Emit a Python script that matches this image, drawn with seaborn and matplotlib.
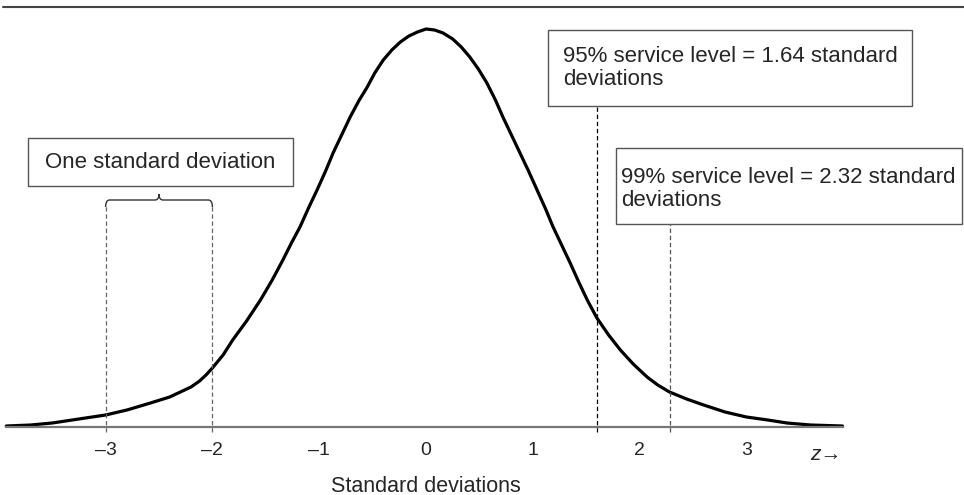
import numpy as np
import matplotlib
matplotlib.use("Agg")
import matplotlib.pyplot as plt
import seaborn as sns
import pandas as pd
from matplotlib.patches import Rectangle, PathPatch
from matplotlib.path import Path

# curve (z in standard deviations, height ~ density)
z_vals = [-3.93, -3.7, -3.5, -3.25, -3.0, -2.8, -2.58, -2.4, -2.30, -2.2, -2.12, -2.06,
          -2.0, -1.9, -1.81, -1.68, -1.55, -1.44, -1.34, -1.26, -1.18, -1.10, -1.02,
          -0.94, -0.87, -0.79, -0.71, -0.63, -0.55, -0.48, -0.40, -0.32, -0.24, -0.16,
          -0.08, 0.0, 0.08, 0.16, 0.25, 0.33, 0.41, 0.49, 0.57, 0.65, 0.72, 0.80, 0.88,
          0.96, 1.04, 1.12, 1.19, 1.27, 1.35, 1.43, 1.51, 1.60, 1.71, 1.82, 1.94, 2.07,
          2.17, 2.28, 2.44, 2.60, 2.80, 3.0, 3.2, 3.38, 3.6, 3.90]
density = [0.001, 0.002, 0.004, 0.008, 0.012, 0.017, 0.024, 0.030, 0.035, 0.040, 0.046, 0.052,
           0.059, 0.072, 0.087, 0.106, 0.127, 0.147, 0.167, 0.184, 0.200, 0.219, 0.237,
           0.256, 0.274, 0.292, 0.310, 0.326, 0.340, 0.354, 0.367, 0.377, 0.385, 0.391,
           0.395, 0.398, 0.397, 0.394, 0.388, 0.380, 0.370, 0.358, 0.344, 0.327, 0.310,
           0.292, 0.274, 0.256, 0.237, 0.218, 0.200, 0.182, 0.164, 0.145, 0.127, 0.109,
           0.092, 0.077, 0.063, 0.050, 0.042, 0.035, 0.028, 0.022, 0.015, 0.010, 0.007,
           0.004, 0.002, 0.001]

tick_pos = [-3, -2, -1, 0, 1, 2, 3]
tick_labels = ["\u20133", "\u20132", "\u20131", "0", "1", "2", "3"]

sd_left, sd_right = -3.0, -2.0
z95, z99 = 1.60, 2.28
label_one_sd = "One standard deviation"
label_95 = "95% service level = 1.64 standard\ndeviations"
label_99 = "99% service level = 2.32 standard\ndeviations"

sns.set_style("white")
plt.rcParams["font.family"] = ["Liberation Sans", "DejaVu Sans"]

W, H = 964, 495
fig = plt.figure(figsize=(W / 100, H / 100), dpi=100)
ax = fig.add_axes([0, 0, 1, 1])

# pixel helpers (z=0 at x=426, 106.8 px per sd, baseline at y=427)
X0, SX, Y0, SY = 426, 106.8, 427, 1000.0
def X(px):
    return (px - X0) / SX
def Y(py):
    return (Y0 - py) / SY

ax.set_xlim(X(0), X(W))
ax.set_ylim(Y(H), Y(0))

df = pd.DataFrame({"z": z_vals, "density": density})
sns.lineplot(data=df, x="z", y="density", ax=ax, color="black", lw=2.3,
             sort=True, estimator=None)
ax.lines[-1].set_solid_joinstyle("round")

# axis line and ticks
for s in ["left", "right", "top"]:
    ax.spines[s].set_visible(False)
ax.spines["bottom"].set_position(("data", 0))
ax.spines["bottom"].set_bounds(z_vals[0], z_vals[-1])
ax.spines["bottom"].set_color("#777777")
ax.spines["bottom"].set_linewidth(1.6)
ax.set_xticks(tick_pos)
ax.set_xticklabels(tick_labels, fontsize=14)
ax.tick_params(axis="x", direction="out", length=5, width=1.2, color="#555555", pad=6)
ax.set_yticks([])
ax.set_xlabel("")
ax.set_ylabel("")

ax.text(X(826), Y(454), "z\u2192", fontsize=15, style="italic", ha="center", va="center")
ax.text(0, Y(486), "Standard deviations", fontsize=15.5, ha="center", va="center")

# top rule
ax.plot([X(3), X(W)], [Y(7), Y(7)], color="#444444", lw=1.5)

# dashed guides
dash = dict(ls=(0, (3.5, 2.2)), lw=0.9)
for zz in [sd_left, sd_right]:
    ax.plot([zz, zz], [Y(432), Y(206)], color="#666666", **dash)
ax.plot([z95, z95], [Y(432), Y(106)], color="black", **dash)
ax.plot([z99, z99], [Y(432), Y(224)], color="#555555", **dash)

# brace over one standard deviation
xl, xr = sd_left, sd_right
xm = (xl + xr) / 2
yb, yc = Y(200), Y(194)
r = 4 / SX
verts = [(xl, Y(207)), (xl, yb), (xl + r, yb),
         (xm - r, yb), (xm, yb), (xm, yc),
         (xm, yb), (xm + r, yb),
         (xr - r, yb), (xr, yb), (xr, Y(207))]
codes = [Path.MOVETO, Path.CURVE3, Path.CURVE3,
         Path.LINETO, Path.CURVE3, Path.CURVE3,
         Path.CURVE3, Path.CURVE3,
         Path.LINETO, Path.CURVE3, Path.CURVE3]
ax.add_patch(PathPatch(Path(verts, codes), fill=False, ec="#333333", lw=1.0))

# boxes
def box(x0, y0, x1, y1):
    ax.add_patch(Rectangle((X(x0), Y(y1)), X(x1) - X(x0), Y(y0) - Y(y1),
                           fill=True, fc="white", ec="#555555", lw=1.0, zorder=3))

box(28, 138, 293, 186)
ax.text(X(160), Y(163), label_one_sd, fontsize=16, ha="center", va="center", zorder=4)
box(548, 30, 912, 106)
ax.text(X(563), Y(68), label_95, fontsize=16, ha="left", va="center",
        linespacing=1.1, zorder=4)
box(616, 148, 962, 224)
ax.text(X(621), Y(189), label_99, fontsize=16, ha="left", va="center",
        linespacing=1.1, zorder=4)

fig.savefig("out.png", dpi=100)
